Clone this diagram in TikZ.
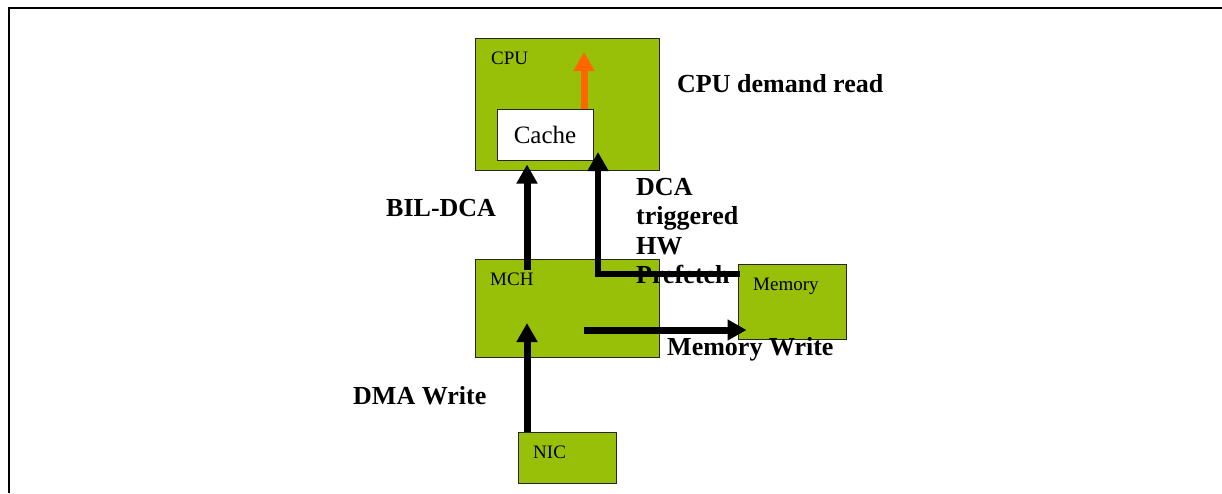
\documentclass[tikz,border=0pt]{standalone}
\usepackage{fontspec}
\setmainfont{Liberation Serif}
\usepackage{xcolor}
\usetikzlibrary{arrows.meta,
positioning,
calc}

\definecolor{chipgreen}{RGB}{153,192,8}
\definecolor{readorange}{RGB}{255,102,0}

\begin{document}
\begin{tikzpicture}[
    x=1pt,
    y=-1pt,
    >={Triangle[length=19pt,width=20pt]},
    unit/.style={
        draw=black!85,
        line width=1pt,
        fill=chipgreen,
        inner sep=0pt
    },
    cachebox/.style={
        draw=black!85,
        line width=1pt,
        fill=white,
        inner sep=0pt,
        font=\fontsize{25}{28}\selectfont
    },
    tag/.style={
        anchor=base west,
        inner sep=0pt,
        font=\fontsize{19}{22}\selectfont
    },
    flow/.style={
        ->,
        line width=7pt
    },
    annot/.style={
        inner sep=0pt,
        align=left,
        font=\fontsize{26}{29.5}\selectfont\bfseries
    }
]

\useasboundingbox (0,0) rectangle (1222,493);

%-------------------------------------------------
% Frame
%-------------------------------------------------

\draw[line width=2pt] (9,493) -- (9,8) -- (1222,8);

%-------------------------------------------------
% Units
%-------------------------------------------------

\node[unit,minimum width=184pt,minimum height=132pt] (cpu) at (567,104) {};
\node[cachebox,minimum width=96pt,minimum height=51pt] (cache) at (545,134.5) {Cache};
\node[unit,minimum width=184pt,minimum height=98pt] (mch) at (567,308) {};
\node[unit,minimum width=108pt,minimum height=75pt] (mem) at (792,301.5) {};
\node[unit,minimum width=98pt,minimum height=51pt] (nic) at (567,457.5) {};

\node[tag] (cputag) at (491,64) {CPU};
\node[tag] (mchtag) at (490,285) {MCH};
\node[tag] (memtag) at (753,290) {Memory};
\node[tag] (nictag) at (533,458) {NIC};

%-------------------------------------------------
% Data paths
%-------------------------------------------------

\coordinate (readtip) at (584,52);
\draw[->,line width=7pt,readorange] (cache.north -| readtip) -- (readtip);

\coordinate (bilfoot) at (527,270);
\draw[flow,shorten >=-6pt] (bilfoot) -- (bilfoot |- cpu.south);

\coordinate (pfstart) at (740,274);
\coordinate (pfbend) at (598,274);
\coordinate (pftip) at (598,152);
\draw[flow,line width=6pt,line cap=round] (pfstart) -- (pfbend)
    [line cap=butt] -- (pftip);

\coordinate (mwstart) at (584,330);
\draw[flow,shorten >=-9pt] (mwstart) -- (mwstart -| mem.west);

\coordinate (dmatip) at (527,323);
\draw[flow] (dmatip |- nic.north) -- (dmatip);

%-------------------------------------------------
% Annotations
%-------------------------------------------------

\node[annot,anchor=base west] (readlbl) at (677,92) {CPU demand read};
\node[annot,anchor=base west] (billbl) at (386,216) {BIL-DCA};
\node[annot,anchor=north west] (pflbl) at (636,178)
{DCA\\triggered\\HW\\Prefetch};
\node[annot,anchor=base west] (mwlbl) at (667,355) {Memory Write};
\node[annot,anchor=base west] (dmalbl) at (353,404) {DMA Write};

\end{tikzpicture}
\end{document}
